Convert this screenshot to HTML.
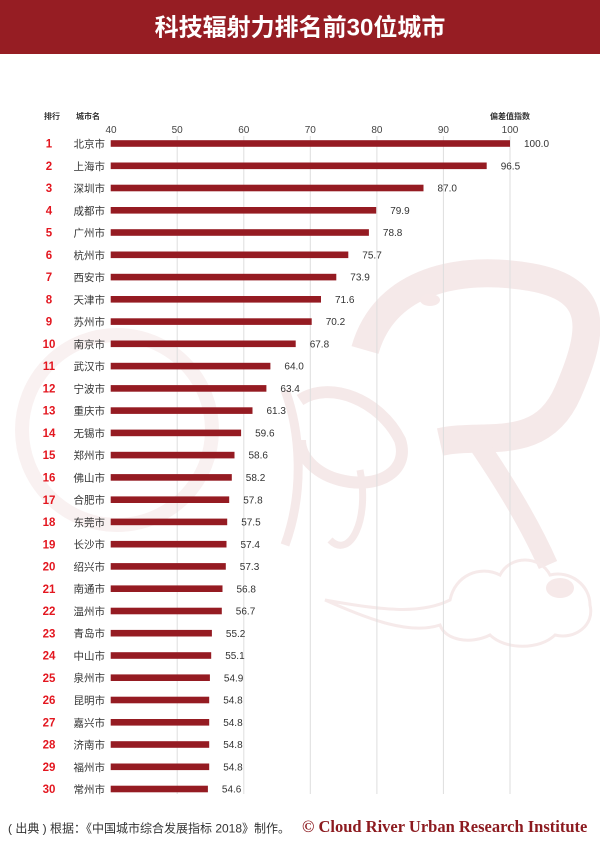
<!DOCTYPE html>
<html><head><meta charset="utf-8"><style>
html,body{margin:0;padding:0;background:#fff;}
svg{display:block;}
.cjk{font-family:"Liberation Sans","Noto Sans CJK SC",sans-serif;}
.rk{font-family:"Liberation Sans","Noto Sans CJK SC",sans-serif;font-size:11.5px;font-weight:bold;fill:#e3161f;}
.ct{font-family:"Liberation Sans","Noto Sans CJK SC",sans-serif;font-size:10.5px;fill:#333;}
.vl{font-family:"Liberation Sans","Noto Sans CJK SC",sans-serif;font-size:10px;fill:#333;}
.tk{font-family:"Liberation Sans",sans-serif;font-size:10px;fill:#444;}
.hd{font-family:"Liberation Sans","Noto Sans CJK SC",sans-serif;font-size:8px;font-weight:bold;fill:#333;}
.bar{fill:#951b22;}
</style></head><body>
<svg width="600" height="848" viewBox="0 0 600 848" xmlns="http://www.w3.org/2000/svg">
<rect x="0" y="0" width="600" height="848" fill="#fff"/>
<!-- watermark -->
<g fill="none" stroke="#f5e9e9">
  <circle cx="117" cy="430" r="95" stroke-width="14" stroke="#f9f1f1"/>
  <path d="M365 350 C385 280,460 265,530 277 S595 330,568 392 S485 432,440 442" stroke-width="28"/>
  <path d="M470 432 C500 475,528 520,548 565" stroke-width="20"/>
  <path d="M300 400 C330 380,380 400,400 440 C410 470,380 490,340 480 C320 475,300 460,300 440" stroke-width="12"/>
  <path d="M360 470 C370 520,350 560,330 540" stroke-width="7"/>
  <path d="M285 390 C300 430,305 490,285 545" stroke-width="9"/>
</g>
<g fill="none" stroke="#f6eaea" stroke-width="3">
  <path d="M325 600 C380 610,420 615,450 600 C455 575,480 565,500 575 C510 555,540 555,550 575 C570 570,590 585,590 605 C595 625,575 640,555 635 C540 650,505 650,490 635 C470 645,445 640,440 625 C410 635,370 620,325 600 Z"/>
</g>
<g fill="#f6e9e9">
  <ellipse cx="560" cy="588" rx="14" ry="10"/>
  <ellipse cx="430" cy="300" rx="10" ry="6"/>
</g>
<!-- header -->
<rect x="0" y="0" width="600" height="54" fill="#961d23"/>
<text x="300" y="35.6" text-anchor="middle" class="cjk" font-size="24" font-weight="bold" fill="#fff">科技辐射力排名前30位城市</text>
<!-- column headers -->
<text x="44" y="119" class="hd">排行</text>
<text x="76" y="119" class="hd">城市名</text>
<text x="490" y="119" class="hd">偏差值指数</text>
<!-- ticks -->
<text x="111" y="133" text-anchor="middle" class="tk">40</text>
<text x="177.2" y="133" text-anchor="middle" class="tk">50</text>
<text x="243.8" y="133" text-anchor="middle" class="tk">60</text>
<text x="310.3" y="133" text-anchor="middle" class="tk">70</text>
<text x="376.9" y="133" text-anchor="middle" class="tk">80</text>
<text x="443.4" y="133" text-anchor="middle" class="tk">90</text>
<text x="510" y="133" text-anchor="middle" class="tk">100</text>
<!-- grid -->
<g stroke="#dedede" stroke-width="1">
  <line x1="177.2" y1="136" x2="177.2" y2="794"/>
  <line x1="243.8" y1="136" x2="243.8" y2="794"/>
  <line x1="310.3" y1="136" x2="310.3" y2="794"/>
  <line x1="376.9" y1="136" x2="376.9" y2="794"/>
  <line x1="443.4" y1="136" x2="443.4" y2="794"/>
  <line x1="510" y1="136" x2="510" y2="794"/>
</g>
<!-- rows -->
<g>
<text x="49" y="147.6" text-anchor="middle" class="rk">1</text><text x="73.5" y="147.5" class="ct">北京市</text><rect class="bar" x="110.7" y="140.2" width="399.3" height="6.6"/><text x="524" y="147.1" class="vl">100.0</text>
<text x="49" y="169.9" text-anchor="middle" class="rk">2</text><text x="73.5" y="169.8" class="ct">上海市</text><rect class="bar" x="110.7" y="162.5" width="376.0" height="6.6"/><text x="500.7" y="169.4" class="vl">96.5</text>
<text x="49" y="192.1" text-anchor="middle" class="rk">3</text><text x="73.5" y="192.0" class="ct">深圳市</text><rect class="bar" x="110.7" y="184.7" width="312.8" height="6.6"/><text x="437.5" y="191.6" class="vl">87.0</text>
<text x="49" y="214.4" text-anchor="middle" class="rk">4</text><text x="73.5" y="214.3" class="ct">成都市</text><rect class="bar" x="110.7" y="207.0" width="265.5" height="6.6"/><text x="390.2" y="213.9" class="vl">79.9</text>
<text x="49" y="236.6" text-anchor="middle" class="rk">5</text><text x="73.5" y="236.5" class="ct">广州市</text><rect class="bar" x="110.7" y="229.2" width="258.2" height="6.6"/><text x="382.9" y="236.1" class="vl">78.8</text>
<text x="49" y="258.9" text-anchor="middle" class="rk">6</text><text x="73.5" y="258.8" class="ct">杭州市</text><rect class="bar" x="110.7" y="251.5" width="237.6" height="6.6"/><text x="362.3" y="258.4" class="vl">75.7</text>
<text x="49" y="281.2" text-anchor="middle" class="rk">7</text><text x="73.5" y="281.1" class="ct">西安市</text><rect class="bar" x="110.7" y="273.8" width="225.6" height="6.6"/><text x="350.3" y="280.7" class="vl">73.9</text>
<text x="49" y="303.4" text-anchor="middle" class="rk">8</text><text x="73.5" y="303.3" class="ct">天津市</text><rect class="bar" x="110.7" y="296.0" width="210.3" height="6.6"/><text x="335.0" y="302.9" class="vl">71.6</text>
<text x="49" y="325.7" text-anchor="middle" class="rk">9</text><text x="73.5" y="325.6" class="ct">苏州市</text><rect class="bar" x="110.7" y="318.3" width="201.0" height="6.6"/><text x="325.7" y="325.2" class="vl">70.2</text>
<text x="49" y="347.9" text-anchor="middle" class="rk">10</text><text x="73.5" y="347.8" class="ct">南京市</text><rect class="bar" x="110.7" y="340.5" width="185.0" height="6.6"/><text x="309.7" y="347.4" class="vl">67.8</text>
<text x="49" y="370.2" text-anchor="middle" class="rk">11</text><text x="73.5" y="370.1" class="ct">武汉市</text><rect class="bar" x="110.7" y="362.8" width="159.7" height="6.6"/><text x="284.4" y="369.7" class="vl">64.0</text>
<text x="49" y="392.5" text-anchor="middle" class="rk">12</text><text x="73.5" y="392.4" class="ct">宁波市</text><rect class="bar" x="110.7" y="385.1" width="155.7" height="6.6"/><text x="280.4" y="392.0" class="vl">63.4</text>
<text x="49" y="414.7" text-anchor="middle" class="rk">13</text><text x="73.5" y="414.6" class="ct">重庆市</text><rect class="bar" x="110.7" y="407.3" width="141.8" height="6.6"/><text x="266.5" y="414.2" class="vl">61.3</text>
<text x="49" y="437.0" text-anchor="middle" class="rk">14</text><text x="73.5" y="436.9" class="ct">无锡市</text><rect class="bar" x="110.7" y="429.6" width="130.4" height="6.6"/><text x="255.1" y="436.5" class="vl">59.6</text>
<text x="49" y="459.2" text-anchor="middle" class="rk">15</text><text x="73.5" y="459.1" class="ct">郑州市</text><rect class="bar" x="110.7" y="451.8" width="123.8" height="6.6"/><text x="248.5" y="458.7" class="vl">58.6</text>
<text x="49" y="481.5" text-anchor="middle" class="rk">16</text><text x="73.5" y="481.4" class="ct">佛山市</text><rect class="bar" x="110.7" y="474.1" width="121.1" height="6.6"/><text x="245.8" y="481.0" class="vl">58.2</text>
<text x="49" y="503.8" text-anchor="middle" class="rk">17</text><text x="73.5" y="503.7" class="ct">合肥市</text><rect class="bar" x="110.7" y="496.4" width="118.5" height="6.6"/><text x="243.2" y="503.3" class="vl">57.8</text>
<text x="49" y="526.0" text-anchor="middle" class="rk">18</text><text x="73.5" y="525.9" class="ct">东莞市</text><rect class="bar" x="110.7" y="518.6" width="116.5" height="6.6"/><text x="241.2" y="525.5" class="vl">57.5</text>
<text x="49" y="548.3" text-anchor="middle" class="rk">19</text><text x="73.5" y="548.2" class="ct">长沙市</text><rect class="bar" x="110.7" y="540.9" width="115.8" height="6.6"/><text x="240.5" y="547.8" class="vl">57.4</text>
<text x="49" y="570.5" text-anchor="middle" class="rk">20</text><text x="73.5" y="570.4" class="ct">绍兴市</text><rect class="bar" x="110.7" y="563.1" width="115.1" height="6.6"/><text x="239.8" y="570.0" class="vl">57.3</text>
<text x="49" y="592.8" text-anchor="middle" class="rk">21</text><text x="73.5" y="592.7" class="ct">南通市</text><rect class="bar" x="110.7" y="585.4" width="111.8" height="6.6"/><text x="236.5" y="592.3" class="vl">56.8</text>
<text x="49" y="615.1" text-anchor="middle" class="rk">22</text><text x="73.5" y="615.0" class="ct">温州市</text><rect class="bar" x="110.7" y="607.7" width="111.1" height="6.6"/><text x="235.8" y="614.6" class="vl">56.7</text>
<text x="49" y="637.3" text-anchor="middle" class="rk">23</text><text x="73.5" y="637.2" class="ct">青岛市</text><rect class="bar" x="110.7" y="629.9" width="101.2" height="6.6"/><text x="225.9" y="636.8" class="vl">55.2</text>
<text x="49" y="659.6" text-anchor="middle" class="rk">24</text><text x="73.5" y="659.5" class="ct">中山市</text><rect class="bar" x="110.7" y="652.2" width="100.5" height="6.6"/><text x="225.2" y="659.1" class="vl">55.1</text>
<text x="49" y="681.8" text-anchor="middle" class="rk">25</text><text x="73.5" y="681.7" class="ct">泉州市</text><rect class="bar" x="110.7" y="674.4" width="99.2" height="6.6"/><text x="223.9" y="681.3" class="vl">54.9</text>
<text x="49" y="704.1" text-anchor="middle" class="rk">26</text><text x="73.5" y="704.0" class="ct">昆明市</text><rect class="bar" x="110.7" y="696.7" width="98.5" height="6.6"/><text x="223.2" y="703.6" class="vl">54.8</text>
<text x="49" y="726.4" text-anchor="middle" class="rk">27</text><text x="73.5" y="726.3" class="ct">嘉兴市</text><rect class="bar" x="110.7" y="719.0" width="98.5" height="6.6"/><text x="223.2" y="725.9" class="vl">54.8</text>
<text x="49" y="748.6" text-anchor="middle" class="rk">28</text><text x="73.5" y="748.5" class="ct">济南市</text><rect class="bar" x="110.7" y="741.2" width="98.5" height="6.6"/><text x="223.2" y="748.1" class="vl">54.8</text>
<text x="49" y="770.9" text-anchor="middle" class="rk">29</text><text x="73.5" y="770.8" class="ct">福州市</text><rect class="bar" x="110.7" y="763.5" width="98.5" height="6.6"/><text x="223.2" y="770.4" class="vl">54.8</text>
<text x="49" y="793.1" text-anchor="middle" class="rk">30</text><text x="73.5" y="793.0" class="ct">常州市</text><rect class="bar" x="110.7" y="785.7" width="97.2" height="6.6"/><text x="221.9" y="792.6" class="vl">54.6</text>
</g>
<!-- footer -->
<text x="8" y="832.5" class="cjk" font-size="12" fill="#333">( 出典 ) 根据：《中国城市综合发展指标 2018》制作。</text>
<text x="302" y="832" font-family="'Liberation Serif',serif" font-weight="bold" font-size="16.5" fill="#8c1a1f">© Cloud River Urban Research Institute</text>
</svg>
</body></html>
